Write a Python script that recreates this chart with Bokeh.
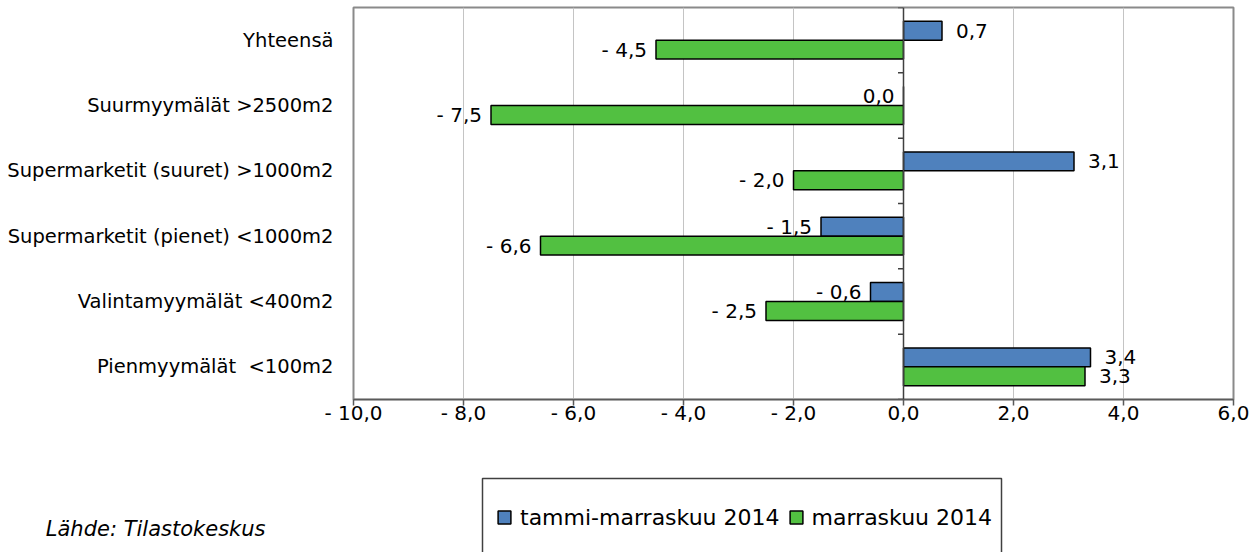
from bokeh.plotting import figure
from bokeh.models import (ColumnDataSource, FactorRange, Range1d, FixedTicker, Span,
                          Legend, LegendItem)
from bokeh.transform import dodge
from bokeh.layouts import column
from bokeh.core.properties import value
from bokeh.embed import file_html
from bokeh.resources import INLINE

# ---------------- data ----------------
categories = ["Yhteensä", "Suurmyymälät >2500m2", "Supermarketit (suuret) >1000m2",
              "Supermarketit (pienet) <1000m2", "Valintamyymälät <400m2",
              "Pienmyymälät \u00a0<100m2"]
series_names = ["tammi-marraskuu 2014", "marraskuu 2014"]
tammi_marras = [0.7, 0.0, 3.1, -1.5, -0.6, 3.4]
marras = [-4.5, -7.5, -2.0, -6.6, -2.5, 3.3]
tick_values = [-10, -8, -6, -4, -2, 0, 2, 4, 6]
tick_labels = ["- 10,0", "- 8,0", "- 6,0", "- 4,0", "- 2,0", "0,0", "2,0", "4,0", "6,0"]
source_text = "Lähde: Tilastokeskus"

BLUE = "#4F81BD"
GREEN = "#52C041"
FONT = "DejaVu Sans"

W = 1259
H1 = 440
H2 = 112


def fmt(v):
    s = f"{abs(v):.1f}".replace(".", ",")
    return ("- " + s) if v < 0 else s


def make_source(vals):
    return ColumnDataSource(dict(
        cat=categories,
        val=vals,
        label=[fmt(v) for v in vals],
        align=["left" if v > 0 else "right" for v in vals],
        xoff=[14 if v > 0 else -9 for v in vals],
    ))


p = figure(width=W, height=H1,
           x_range=Range1d(tick_values[0], tick_values[-1]),
           y_range=FactorRange(*reversed(categories)),
           output_backend="svg", toolbar_location=None,
           min_border_left=353, min_border_right=26, min_border_top=7, min_border_bottom=41)
p.background_fill_color = "white"
p.border_fill_color = "white"
p.outline_line_color = "#8a8a8a"
p.outline_line_width = 2

# grid
p.ygrid.visible = False
p.xgrid.ticker = FixedTicker(ticks=tick_values)
p.xgrid.grid_line_color = "#c4c4c4"
p.xgrid.grid_line_width = 1

# x axis
xa = p.xaxis[0]
xa.ticker = FixedTicker(ticks=tick_values)
xa.major_label_overrides = {t: l for t, l in zip(tick_values, tick_labels)}
xa.axis_line_color = "#5a5a5a"
xa.axis_line_width = 1.5
xa.major_tick_line_color = "#5a5a5a"
xa.major_tick_line_width = 1.5
xa.major_tick_out = 6
xa.major_tick_in = 0
xa.minor_tick_line_color = None
xa.major_label_standoff = -5
xa.major_label_text_font = FONT
xa.major_label_text_font_size = "20px"
xa.major_label_text_color = "black"

# y axis (labels only)
ya = p.yaxis[0]
ya.axis_line_color = None
ya.major_tick_line_color = None
ya.minor_tick_line_color = None
ya.major_label_standoff = 14
ya.major_label_text_font = FONT
ya.major_label_text_font_size = "19.5px"
ya.major_label_text_color = "black"

src1 = make_source(tammi_marras)
src2 = make_source(marras)

off = 0.145
bh = 0.29
p.hbar(y=dodge("cat", off, range=p.y_range), left=0, right="val", height=bh, source=src1,
       fill_color=BLUE, line_color="black", line_width=1.5)
p.hbar(y=dodge("cat", -off, range=p.y_range), left=0, right="val", height=bh, source=src2,
       fill_color=GREEN, line_color="black", line_width=1.5)

# vertical axis line at zero with category-boundary ticks
p.add_layout(Span(location=0, dimension="height", line_color="#404040", line_width=1.5))
bounds = list(range(len(categories) + 1))
p.segment(x0=[0] * len(bounds), y0=bounds, x1=[-0.1] * len(bounds), y1=bounds,
          line_color="#404040", line_width=1.5)

for src, o in ((src1, off), (src2, -off)):
    p.text(x="val", y=dodge("cat", o, range=p.y_range), text="label", source=src,
           text_align="align", x_offset="xoff", text_baseline="middle",
           text_font=value(FONT), text_font_size="20px", text_color="black")

# ---------------- lower panel: legend + source note ----------------
# its ranges are plain page pixels (the frame is aligned with the chart's frame)
p2 = figure(width=W, height=H2, x_range=Range1d(353, W - 26), y_range=Range1d(H1 + H2, H1),
            x_axis_location=None, y_axis_location="left",
            min_border_top=0, min_border_bottom=0, min_border_left=353, min_border_right=26,
            output_backend="svg", toolbar_location=None)
p2.outline_line_color = None
p2.grid.visible = False
p2.background_fill_color = "white"
p2.border_fill_color = "white"

note_y = 528
ya2 = p2.yaxis[0]
ya2.ticker = FixedTicker(ticks=[note_y])
ya2.major_label_overrides = {note_y: source_text}
ya2.axis_line_color = None
ya2.major_tick_line_color = None
ya2.minor_tick_line_color = None
ya2.major_label_standoff = 82
ya2.major_label_text_font = FONT
ya2.major_label_text_font_size = "21px"
ya2.major_label_text_font_style = "italic"
ya2.major_label_text_color = "black"

# legend frame (runs off the bottom edge as in the original)
p2.quad(left=482, right=1001, top=478, bottom=620, fill_color="white",
        line_color="#404040", line_width=1.5)

nan = float("nan")
r1 = p2.scatter(x=[nan], y=[nan], marker="square", size=13, fill_color=BLUE,
                line_color="black", line_width=1.5)
r2 = p2.scatter(x=[nan], y=[nan], marker="square", size=13, fill_color=GREEN,
                line_color="black", line_width=1.5)
legend = Legend(items=[LegendItem(label=series_names[0], renderers=[r1]),
                       LegendItem(label=series_names[1], renderers=[r2])],
                orientation="horizontal", location=(135, 19),
                glyph_width=32, glyph_height=32, label_standoff=0, spacing=0,
                padding=0, margin=0, border_line_color=None, background_fill_alpha=0,
                label_text_font=FONT, label_text_font_size="22px", label_text_color="black")
p2.add_layout(legend)

layout = column(p, p2, spacing=0)
open("out.html", "w").write(file_html(layout, INLINE))
